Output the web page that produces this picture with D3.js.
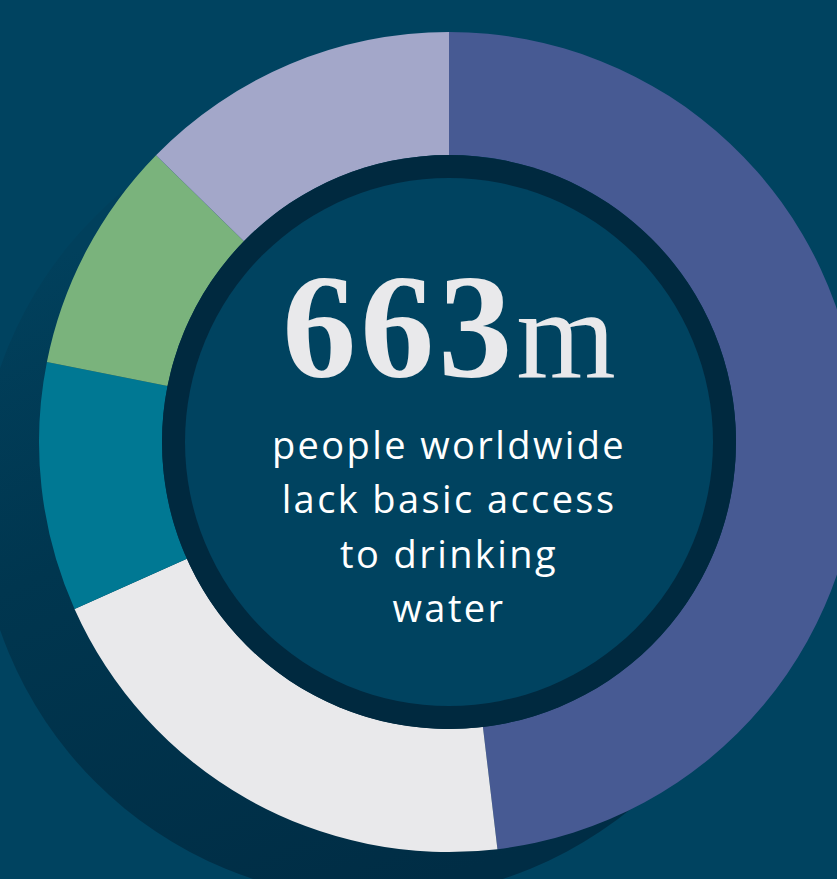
<!DOCTYPE html>
<html>
<head>
<meta charset="utf-8">
<script src="https://cdn.jsdelivr.net/npm/d3@7"></script>
<style>
  html, body { margin: 0; padding: 0; background: #004360; overflow: hidden; }
  svg { display: block; }
</style>
</head>
<body>
<svg id="chart" width="837" height="879"></svg>
<script>
// people without basic drinking water, millions, clockwise from 12 o'clock
const regions = ['Sub-Saharan Africa', 'Southern Asia', 'Eastern Asia', 'South-Eastern Asia', 'Rest of world'];
const millions = [319, 134, 65, 61, 84];
const colors = ['#475a93', '#e9e9eb', '#007893', '#7ab37c', '#a3a7c9'];
const headline = '663';
const headlineUnit = 'm';
const caption = ['people worldwide', 'lack basic access', 'to drinking', 'water'];

const W = 837, H = 879;
const cx = 449, cy = 442;
const outerR = 410, innerR = 287, ringR = 264;

const svg = d3.select('#chart');
const defs = svg.append('defs');

// shadow fades out toward the top-left, darkest under the bottom of the ring
const grad = defs.append('linearGradient')
  .attr('id', 'shadowGrad')
  .attr('gradientUnits', 'userSpaceOnUse')
  .attr('x1', 150).attr('y1', 220).attr('x2', 420).attr('y2', 890);
grad.append('stop').attr('offset', 0).attr('stop-color', '#01405c');
grad.append('stop').attr('offset', 0.4).attr('stop-color', '#00364f');
grad.append('stop').attr('offset', 1).attr('stop-color', '#002d45');

svg.append('rect').attr('width', W).attr('height', H).attr('fill', '#004360');

svg.append('circle')
  .attr('cx', 378).attr('cy', 499).attr('r', 400)
  .attr('fill', 'url(#shadowGrad)');

const g = svg.append('g').attr('transform', `translate(${cx},${cy})`);

const pie = d3.pie().sort(null).value(d => d)(millions);
const arc = d3.arc().innerRadius(innerR).outerRadius(outerR);

g.selectAll('path.slice')
  .data(pie)
  .join('path')
  .attr('class', 'slice')
  .attr('d', arc)
  .attr('fill', (d, i) => colors[i])
  .append('title').text((d, i) => `${regions[i]}: ${d.data}m`);

// dark inner ring + centre disc
g.append('circle').attr('r', innerR).attr('fill', '#00293f');
g.append('circle').attr('r', ringR).attr('fill', '#004360');

const big = g.append('text')
  .attr('x', 0).attr('y', -65)
  .attr('text-anchor', 'middle')
  .attr('fill', '#e9e9eb')
  .attr('font-family', '"Liberation Serif", "DejaVu Serif", serif');
big.append('tspan').attr('font-size', 148).attr('font-weight', 700)
  .attr('letter-spacing', 4).text(headline);
big.append('tspan').attr('font-size', 128).attr('font-weight', 400).text(headlineUnit);

g.selectAll('text.cap')
  .data(caption)
  .join('text')
  .attr('class', 'cap')
  .attr('x', 0)
  .attr('y', (d, i) => 17 + i * 54.4)
  .attr('text-anchor', 'middle')
  .attr('fill', '#ffffff')
  .attr('font-family', '"Open Sans", Lato, sans-serif')
  .attr('font-size', 38)
  .attr('font-weight', 500)
  .attr('letter-spacing', 2.4)
  .text(d => d);
</script>
</body>
</html>
